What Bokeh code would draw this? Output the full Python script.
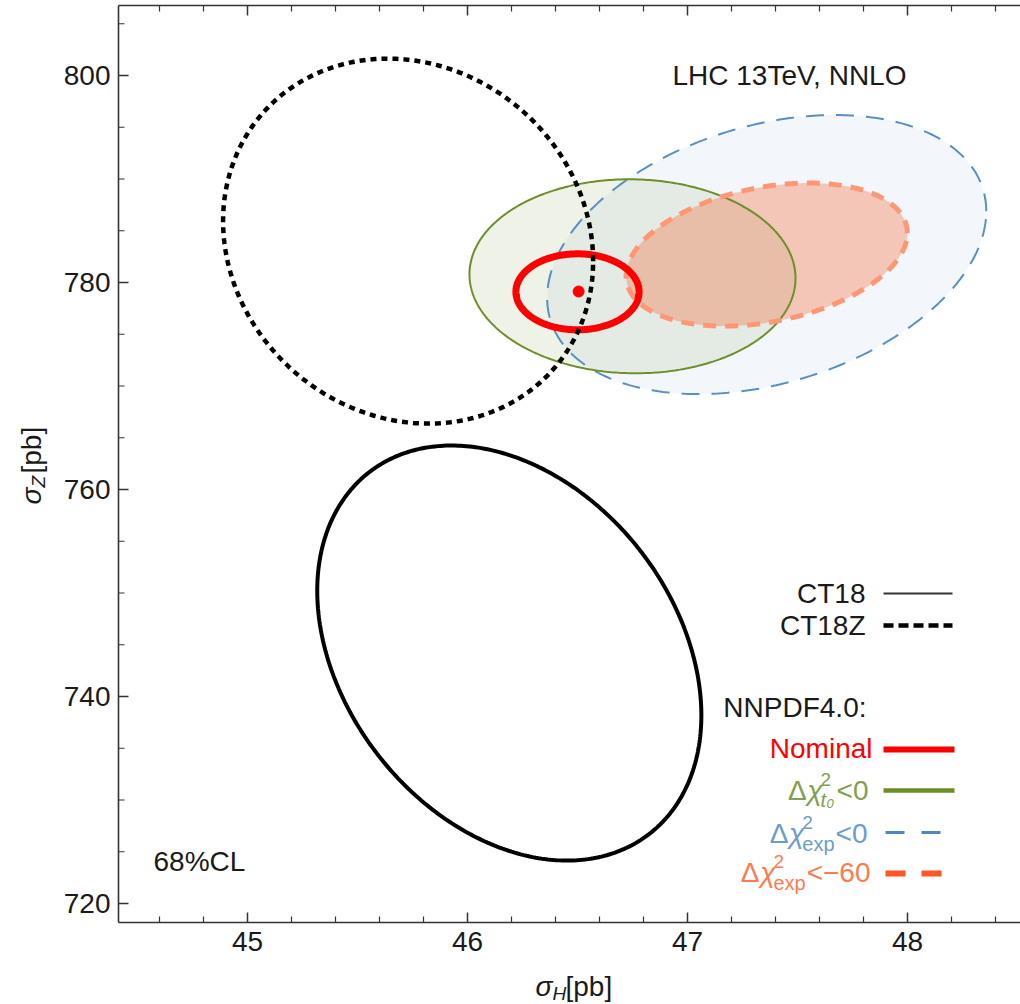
import numpy as np
from bokeh.plotting import figure
from bokeh.models import Label, Range1d
from bokeh.core.properties import value
from bokeh.embed import file_html
from bokeh.resources import INLINE

# ---------------- data ----------------
set_names = ["CT18", "CT18Z", "dchi2_t0<0", "dchi2_exp<0", "dchi2_exp<-60", "Nominal"]
sigmaH_center = [46.19, 45.73, 46.75, 47.36, 47.36, 46.50]
sigmaZ_center = [744.2, 784.0, 780.6, 782.7, 782.7, 779.1]
sigmaH_error = [0.873, 0.841, 0.741, 0.998, 0.639, 0.28]
sigmaZ_error = [20.05, 17.63, 9.37, 13.48, 6.91, 3.67]
correlation = [-0.30, -0.11, -0.02, 0.31, 0.30, 0.0]
nominal_point_H = [46.505]
nominal_point_Z = [779.13]
x_ticks = [45, 46, 47, 48]
x_tick_labels = ["45", "46", "47", "48"]
y_ticks = [720, 740, 760, 780, 800]
y_tick_labels = ["720", "740", "760", "780", "800"]
x_minor_step = 0.2
y_minor_step = 5

# ---------------- layout helpers (pixel -> data) ----------------
FL, FR, FT, FB = 118, 1020, 5, 922
def X(px):
    return 45 + (px - 247) / 220.0
def Y(py):
    return 800 - (py - 75) / 10.35

FONT = "Liberation Sans"
W = {'<': 584, '0': 556, '6': 556, '\u2212': 584, 'e': 556, 'x': 500, 'p': 556,
     't': 278, '\u0394': 700, '\u03c7': 600, '2': 556}
def wtext(s, size):
    return sum(W.get(c, 556) for c in s) / 1000.0 * size

p = figure(width=1020, height=1004,
           x_range=Range1d(X(0), X(1020)), y_range=Range1d(Y(1004), Y(0)),
           output_backend="svg", toolbar_location=None,
           x_axis_location=None, y_axis_location=None,
           min_border=0)
p.outline_line_color = None
p.grid.visible = False
p.background_fill_color = "white"
p.border_fill_color = "white"

# ---------------- axes frame (drawn through the data scales) ----------------
xl, xr, yb, yt = X(FL), X(FR), Y(FB), Y(FT)
AX = "#333333"
p.line([xl, xl], [yb, yt], line_color=AX, line_width=1.6)
p.line([xl, xr], [yb, yb], line_color=AX, line_width=1.6)
p.line([xl, xr], [yt, yt], line_color=AX, line_width=1.6)

x_minor = [v for v in np.arange(x_ticks[0] - 1, x_ticks[-1] + 1, x_minor_step)
           if xl < v < xr and abs(v - round(v)) > 1e-6]
y_minor = [v for v in np.arange(y_ticks[0] - 20, y_ticks[-1] + 20, y_minor_step)
           if yb < v < yt and abs(v % 20) > 1e-6]
n = len(x_ticks); m = len(x_minor)
p.segment(x_ticks, [yb] * n, x_ticks, [Y(FB - 10)] * n, line_color=AX, line_width=1.5)
p.segment(x_minor, [yb] * m, x_minor, [Y(FB - 6)] * m, line_color=AX, line_width=1.2)
p.segment(x_ticks, [yt] * n, x_ticks, [Y(FT + 10)] * n, line_color=AX, line_width=1.5)
p.segment(x_minor, [yt] * m, x_minor, [Y(FT + 6)] * m, line_color=AX, line_width=1.2)
k = len(y_ticks); q = len(y_minor)
p.segment([xl] * k, y_ticks, [X(FL + 10)] * k, y_ticks, line_color=AX, line_width=1.5)
p.segment([xl] * q, y_minor, [X(FL + 6)] * q, y_minor, line_color=AX, line_width=1.2)
p.text(x=x_ticks, y=[Y(FB + 9)] * n, text=x_tick_labels, text_font=value(FONT),
       text_font_size="28px", text_color="#1a1a1a", text_align="center", text_baseline="top")
p.text(x=[X(FL - 8)] * k, y=y_ticks, text=y_tick_labels, text_font=value(FONT),
       text_font_size="28px", text_color="#1a1a1a", text_align="right", text_baseline="middle")

# ---------------- ellipses ----------------
def ellipse(i, npts=400):
    t = np.linspace(0, 2 * np.pi, npts)
    r = correlation[i]
    xs = sigmaH_center[i] + sigmaH_error[i] * np.cos(t)
    ys = sigmaZ_center[i] + sigmaZ_error[i] * (r * np.cos(t) + np.sqrt(1 - r * r) * np.sin(t))
    return xs, ys

for i, col, a in [(3, "#6a9fd4", 0.08), (2, "#6b8e23", 0.11), (4, "#f4693a", 0.35)]:
    xs, ys = ellipse(i)
    p.patch(xs, ys, fill_color=col, fill_alpha=a, line_color=None)

styles = {
    3: dict(line_color="#5a8fc3", line_width=2, line_dash="18 12"),
    2: dict(line_color="#6d8f2b", line_width=2),
    4: dict(line_color="#ff9774", line_width=5, line_dash="13 9"),
    5: dict(line_color="#ff0000", line_width=7),
    0: dict(line_color="#000000", line_width=4),
    1: dict(line_color="#000000", line_width=4.5, line_dash="6 5"),
}
for i in [3, 2, 4, 5, 0, 1]:
    xs, ys = ellipse(i)
    p.line(xs, ys, **styles[i])

p.scatter(nominal_point_H, nominal_point_Z, size=11, color="#ff0000")

# ---------------- texts ----------------
def lab(px, py, text, size=28, color="#1a1a1a", align="left", style="normal", angle=0.0):
    p.add_layout(Label(x=X(px), y=Y(py), text=text, text_font=FONT,
                       text_font_size=f"{size}px", text_color=color,
                       text_align=align, text_baseline="middle",
                       text_font_style=style, angle=angle))

lab(672, 75, "LHC 13TeV, NNLO")
lab(153, 861, "68%CL")

lab(535, 986, "\u03c3", style="italic")
lab(552, 993, "H", size=19, style="italic")
lab(565, 986, "[pb]")
lab(31, 504, "\u03c3", style="italic", angle=np.pi / 2)
lab(38, 487, "Z", size=19, style="italic", angle=np.pi / 2)
lab(31, 473, "[pb]", angle=np.pi / 2)

lab(865, 593, "CT18", align="right")
p.line([X(883), X(952)], [Y(593), Y(593)], line_color="#333333", line_width=2)
lab(865, 625, "CT18Z", align="right")
p.line([X(883), X(952)], [Y(625), Y(625)], line_color="#000000", line_width=4.5, line_dash="10 5")
lab(866, 707, "NNPDF4.0:", align="right")
lab(872, 748, "Nominal", align="right", color="#ff0000")
p.line([X(883), X(954)], [Y(749), Y(749)], line_color="#ff0000", line_width=6)

def chi_label(R, yc, color, sub, rest):
    w_rest = wtext(rest, 28)
    lab(R, yc, rest, color=color, align="right")
    if sub == "exp":
        w_sub = wtext("exp", 20)
        xs = R - w_rest - w_sub - 1
        lab(xs, yc + 10, "exp", size=20, color=color)
    else:
        w_sub = 15
        xs = R - w_rest - w_sub - 1
        lab(xs, yc + 9, "t", size=20, color=color, style="italic")
        lab(xs + 6, yc + 13, "0", size=13, color=color, style="italic")
    lab(xs, yc - 11, "2", size=19, color=color)
    lab(xs + 2, yc, "\u03c7", color=color, align="right", style="italic")
    lab(xs + 2 - 16, yc, "\u0394", color=color, align="right")

chi_label(868, 790, "#7fa050", "t0", "<0")
p.line([X(883), X(954)], [Y(790), Y(790)], line_color="#6b8e23", line_width=4.5)
chi_label(867, 833, "#6c9ccc", "exp", "<0")
p.line([X(885), X(941)], [Y(832), Y(832)], line_color="#4f86bf", line_width=3, line_dash="19 17")
chi_label(870, 872, "#ff7a50", "exp", "<\u221260")
p.line([X(885), X(941)], [Y(873), Y(873)], line_color="#ff5722", line_width=6, line_dash="20 16")

open("out.html", "w").write(file_html(p, INLINE))
